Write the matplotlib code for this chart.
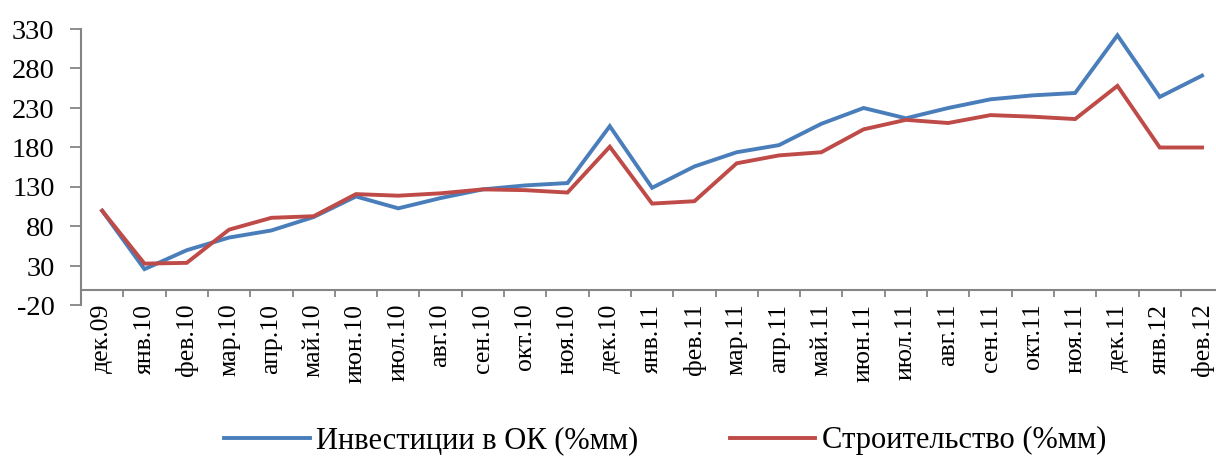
import matplotlib

matplotlib.use("Agg")
import matplotlib.pyplot as plt
from matplotlib.ticker import FixedLocator

plt.rcParams["font.family"] = ["Liberation Serif", "DejaVu Serif"]
plt.rcParams["axes.unicode_minus"] = False

months = [
    "дек.09", "янв.10", "фев.10", "мар.10", "апр.10", "май.10", "июн.10",
    "июл.10", "авг.10", "сен.10", "окт.10", "ноя.10", "дек.10", "янв.11",
    "фев.11", "мар.11", "апр.11", "май.11", "июн.11", "июл.11", "авг.11",
    "сен.11", "окт.11", "ноя.11", "дек.11", "янв.12", "фев.12",
]
invest = [100, 26, 50, 66, 75, 92, 118, 103, 116, 127, 132, 135, 207, 129,
          156, 174, 183, 210, 230, 217, 230, 241, 246, 249, 322, 244, 271]
construction = [100, 33, 34, 76, 91, 93, 121, 119, 122, 127, 126, 123, 181, 109,
                112, 160, 170, 174, 203, 215, 211, 221, 219, 216, 258, 180, 180]
y_ticks = [-20, 30, 80, 130, 180, 230, 280, 330]

BLUE = "#4A7EBB"
RED = "#BE4B48"
AXIS = "#858585"

fig = plt.figure(figsize=(12.16, 4.61), dpi=100)
ax = fig.add_axes([81 / 1216, 1 - 305.5 / 461, 1 - 81 / 1216, 276.5 / 461])

x = list(range(len(months)))
ax.plot(x, invest, color=BLUE, lw=2.8, label="Инвестиции в ОК (%мм)", solid_joinstyle="miter")
ax.plot(x, construction, color=RED, lw=2.8, label="Строительство (%мм)", solid_joinstyle="miter")

ax.set_xlim(-0.5, 26.33)
ax.set_ylim(-20, 330)

for side in ("top", "right"):
    ax.spines[side].set_visible(False)
ax.spines["bottom"].set_position(("data", 0))
for side in ("left", "bottom"):
    ax.spines[side].set_color(AXIS)
    ax.spines[side].set_linewidth(1.5)

ax.set_yticks(y_ticks)
ax.tick_params(axis="y", direction="out", length=8, width=1.3, color=AXIS,
               labelsize=20.5, pad=11)

ax.set_xticks(x)
ax.set_xticklabels(months, rotation=90, fontsize=18.5)
ax.tick_params(axis="x", which="major", length=0, pad=10)
ax.xaxis.set_minor_locator(FixedLocator([i + 0.5 for i in range(-1, len(months))]))
ax.tick_params(axis="x", which="minor", direction="out", length=5, width=1.3, color=AXIS)

fig.legend(loc="center", bbox_to_anchor=(0.547, 0.044), ncol=2, frameon=False,
           fontsize=22, handlelength=2.8, handletextpad=0.2, columnspacing=3.0)

fig.savefig("out.png", dpi=100)
